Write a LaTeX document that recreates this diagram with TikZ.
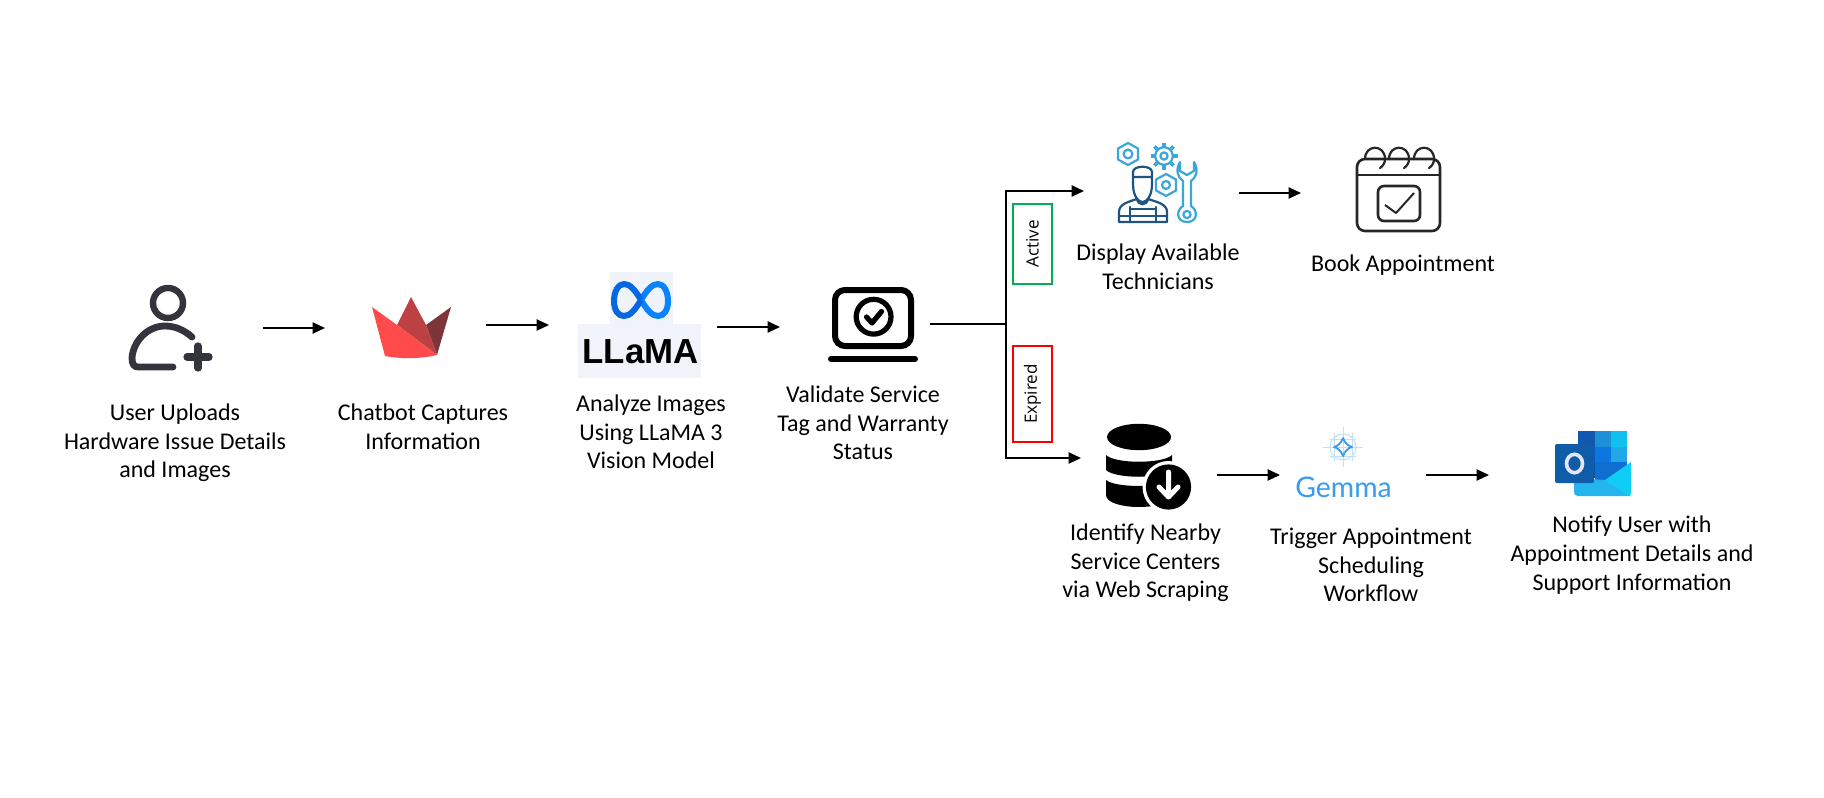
\documentclass[tikz,border=0pt]{standalone}
\usepackage{fontspec}
\setmainfont{Carlito}
\newfontfamily\boxfont{Open Sans}
\newfontfamily\logofont{Liberation Sans}
\newfontfamily\gemfont{Lato}
\usetikzlibrary{arrows.meta}
\definecolor{llbg}{HTML}{F0F3F9}
\definecolor{iconink}{HTML}{34343C}
\definecolor{techblue}{HTML}{1F5480}
\definecolor{techcyan}{HTML}{3BA6D8}
\definecolor{gemblue}{HTML}{3A9BF0}
\definecolor{gemlight}{HTML}{BFE0F8}
\definecolor{crownA}{HTML}{FF4B4B}
\definecolor{crownB}{HTML}{BD4043}
\definecolor{crownC}{HTML}{7D353B}
\definecolor{metaA}{HTML}{0668E1}
\definecolor{metaB}{HTML}{0A84FA}
\definecolor{okgreen}{HTML}{00B050}
\definecolor{olA}{HTML}{1058B0}
\definecolor{olB}{HTML}{1E90D8}
\definecolor{olC}{HTML}{12C0F0}
\definecolor{olD}{HTML}{0A5BC0}
\definecolor{olE}{HTML}{0A78E0}
\definecolor{olF}{HTML}{20A8E8}
\definecolor{olG}{HTML}{084FA8}
\definecolor{olH}{HTML}{0F6FD0}
\definecolor{olI}{HTML}{24B5EE}
\definecolor{olJ}{HTML}{0FCDF5}
\definecolor{olK}{HTML}{0F5CA8}
\tikzset{
  flow/.style={line width=0.8pt,-{Triangle[length=6.2pt,width=5.6pt]}},
  plainline/.style={line width=0.7pt},
  caption/.style={align=center,inner sep=0pt,font=\fontsize{12}{14.3}\selectfont,text=black},
  tag/.style={draw,line width=0.75pt,minimum width=19.5pt,inner sep=0pt,fill=white},
  tagtext/.style={rotate=90,font=\boxfont\fontsize{8.5}{10}\selectfont,text=black},
  techc/.style={draw=techcyan,line width=1.1pt,line join=round},
  techd/.style={draw=techblue,line width=1.1pt,line join=round,line cap=round},
  cal/.style={draw=black!85,line width=1.3pt,line join=round,line cap=round}
}
\begin{document}
\begin{tikzpicture}[x=0.5pt,y=-0.5pt]
\useasboundingbox (0,0) rectangle (1824,797);
\fill[white] (0,0) rectangle (1824,797);

% ---- user icon
\draw[iconink,line width=3.2pt] (168,303) circle[radius=7.5pt];
\draw[iconink,line width=3.4pt,line cap=round,line join=round] (192,337) .. controls (184,330) and (175,326) .. (165,326) .. controls (147,326) and (133,342) .. (132,358) .. controls (132,364) and (134,367) .. (138,367) -- (173,367);
\draw[iconink,line width=3.6pt,line cap=round] (187,357) -- (209,357) (198,346) -- (198,368);

% ---- crown
\fill[crownC] (426,325) -- (451,307) -- (437,355) -- cycle;
\fill[crownB] (397,325) -- (411,297) -- (426,325) -- (437,355) -- cycle;
\fill[crownA] (372,307) -- (397,325) -- (437,355) .. controls (420,359) and (400,359) .. (385,356) -- cycle;

% ---- LLaMA logo
\fill[llbg] (610,272) rectangle (673,324);
\fill[llbg] (578,324) rectangle (701,378);
\draw[line width=3pt,metaB] (641,300) .. controls (647,290) and (652,284) .. (658,284) .. controls (664,284) and (668,292) .. (668,301) .. controls (668,310) and (664,316) .. (658,316) .. controls (652,316) and (647,310) .. (641,300);
\draw[line width=3pt,metaA] (641,300) .. controls (635,290) and (630,284) .. (624,284) .. controls (618,284) and (614,292) .. (614,301) .. controls (614,310) and (618,316) .. (624,316) .. controls (630,316) and (635,310) .. (641,300);
\node[inner sep=0pt,font=\logofont\bfseries\fontsize{17.4}{20}\selectfont] (llamalogo) at (640.5,352) {LLaMA};

% ---- laptop
\draw[black,line width=3pt,rounded corners=5pt] (835,290) rectangle (911,346);
\draw[black,line width=2.6pt] (873.6,316.7) circle[radius=8.7pt];
\draw[black,line width=2.6pt,line cap=round,line join=round] (866.5,317) -- (872,323) -- (881.5,311.5);
\draw[black,line width=3pt,line cap=round] (831,359) -- (915,359);

% ---- technician icon
\draw[techc] (1128,143) -- (1138,148.5) -- (1138,159.5) -- (1128,165) -- (1118,159.5) -- (1118,148.5) -- cycle;
\draw[techc] (1128,154) circle[radius=2.2pt];
\foreach \a in {0,45,...,315}{\draw[techcyan,line width=1.9pt] (1164,156) ++(\a:9) -- ++(\a:4.5);}
\draw[techc,fill=white] (1164,156) circle[radius=4.4pt];
\draw[techc] (1164,156) circle[radius=1.8pt];
\draw[techc] (1166,174) -- (1176,179.5) -- (1176,190.5) -- (1166,196) -- (1156,190.5) -- (1156,179.5) -- cycle;
\draw[techc] (1166,185) circle[radius=2pt];
\draw[techc] (1180,162) .. controls (1175,170) and (1178,178) .. (1183,181) -- (1183,206) .. controls (1176,210) and (1176,222) .. (1187,222) .. controls (1198,222) and (1198,210) .. (1191,206) -- (1191,181) .. controls (1196,178) and (1199,170) .. (1194,162) -- (1194,171) -- (1187,175) -- (1180,171) -- cycle;
\draw[techc] (1187,214.5) circle[radius=1.8pt];
\draw[techd] (1133,184) -- (1133,172) .. controls (1133,165) and (1152,165) .. (1152,172) -- (1152,184) (1133,177) -- (1152,177);
\draw[techd] (1133,184) .. controls (1133,197) and (1139,202) .. (1142.5,202) .. controls (1146,202) and (1152,197) .. (1152,184);
\draw[techd] (1119,222) -- (1119,212) .. controls (1119,204) and (1128,202) .. (1137,199) .. controls (1138,206) and (1147,206) .. (1148,199) .. controls (1157,202) and (1167,204) .. (1167,212) -- (1167,222) -- cycle;
\draw[techd] (1119,216) -- (1167,216) (1130,222) -- (1130,207) (1156,222) -- (1156,207) (1130,209) -- (1156,209);

% ---- calendar
\draw[cal,rounded corners=4pt] (1357,159) rectangle (1440,231);
\draw[cal] (1357,175) -- (1440,175);
\foreach \x in {1375,1399,1424}{
  \draw[cal,line width=1.1pt] (\x-10,159) .. controls (\x-10,144) and (\x+10,144) .. (\x+10,159) .. controls (\x+10,163) and (\x+8,166) .. (\x+5,168);
}
\draw[cal,rounded corners=3pt] (1378,186) rectangle (1420,221);
\draw[black!85,line width=1pt,line join=round] (1385,205) -- (1396,213) -- (1414,193);

% ---- database icon
\fill[black] (1139,437) ellipse[x radius=16pt,y radius=6.6pt];
\fill[black] (1106,455) .. controls (1115,464) and (1163,464) .. (1172,455) -- (1172,470) .. controls (1163,479) and (1115,479) .. (1106,470) -- cycle;
\fill[black] (1106,480) .. controls (1115,488) and (1163,488) .. (1172,480) -- (1172,495) .. controls (1172,503) and (1155,507) .. (1139,507) .. controls (1123,507) and (1106,503) .. (1106,495) -- cycle;
\fill[white] (1168.5,487) circle[radius=13pt];
\fill[black] (1168.5,487) circle[radius=11.3pt];
\draw[white,line width=2.5pt,line cap=round,line join=round] (1168.5,472) -- (1168.5,496) (1159,487) -- (1168.5,497) -- (1178,487);

% ---- gemma logo
\begin{scope}[gemlight,line width=0.5pt]
\draw (1343,447) circle[radius=6.5pt];
\draw (1323,447) -- (1363,447) (1343,427) -- (1343,467);
\draw (1330,439) -- (1356,439) (1330,456) -- (1356,456) (1334,433) -- (1334,461) (1352,433) -- (1352,461);
\end{scope}
\draw[gemblue,line width=0.9pt,line join=round] (1343,438) .. controls (1345,443) and (1348,446) .. (1352,447) .. controls (1348,448) and (1345,451) .. (1343,456) .. controls (1341,451) and (1338,448) .. (1334,447) .. controls (1338,446) and (1341,443) .. (1343,438) -- cycle;
\node[inner sep=0pt,text=gemblue,font=\gemfont\fontsize{14.2}{18}\selectfont] (gemmalogo) at (1343.5,487) {Gemma};

% ---- outlook logo
\fill[olA] (1578,431) rectangle (1595,447);
\fill[olB] (1595,431) rectangle (1611,447);
\fill[olC] (1611,431) rectangle (1627,447);
\fill[olD] (1578,447) rectangle (1595,462);
\fill[olE] (1595,447) rectangle (1611,462);
\fill[olF] (1611,447) rectangle (1627,462);
\fill[olG] (1578,462) rectangle (1595,478);
\fill[olH] (1595,462) rectangle (1627,482);
\fill[olI] (1574,478) -- (1605,480) -- (1631,496) -- (1578,496) .. controls (1575,496) and (1574,494) .. (1574,492) -- cycle;
\fill[olJ] (1605,480) -- (1631,462) -- (1631,493) .. controls (1631,495) and (1630,496) .. (1629,496) -- cycle;
\fill[olK,rounded corners=1pt] (1555,444) rectangle (1594,483);
\draw[white!90!blue,line width=1.8pt] (1574.5,463.5) ellipse[x radius=4pt,y radius=4.6pt];

% ---- captions
\node[caption] (cap1) at (175,443) {User Uploads\\Hardware Issue Details\\and Images};
\node[caption] (cap2) at (423,427) {Chatbot Captures\\Information};
\node[caption] (cap3) at (651,432) {Analyze Images\\Using LLaMA 3\\Vision Model};
\node[caption] (cap4) at (863,423) {Validate Service\\Tag and Warranty\\Status};
\node[caption] (cap5) at (1158,267) {Display Available\\Technicians};
\node[caption] (cap6) at (1403,265) {Book Appointment};
\node[caption] (cap7) at (1145.5,563) {Identify Nearby\\Service Centers\\via Web Scraping};
\node[caption] (cap8) at (1371,565) {Trigger Appointment\\Scheduling\\Workflow};
\node[caption] (cap9) at (1632,555) {Notify User with\\Appointment Details and\\Support Information};

% ---- connectors
\coordinate (a1) at (263,328); \coordinate (b1) at (325,328);
\coordinate (a2) at (486,325); \coordinate (b2) at (549,325);
\coordinate (a3) at (717,327); \coordinate (b3) at (780,327);
\coordinate (lap) at (929.5,324); \coordinate (fork) at (1006,324);
\coordinate (top) at (1084,191); \coordinate (bot) at (1081,458);
\coordinate (a4) at (1239,193); \coordinate (b4) at (1301,193);
\coordinate (a5) at (1217,475); \coordinate (b5) at (1280,475);
\coordinate (a6) at (1426,475); \coordinate (b6) at (1489,475);
\draw[flow] (a1) -- (b1);
\draw[flow] (a2) -- (b2);
\draw[flow] (a3) -- (b3);
\draw[plainline] (lap) -- (fork);
\draw[flow] (fork) |- (top);
\draw[flow] (fork) |- (bot);
\draw[flow] (a4) -- (b4);
\draw[flow] (a5) -- (b5);
\draw[flow] (a6) -- (b6);

% ---- tags
\node[tag,draw=okgreen,minimum height=40pt] (activebox) at (1032.5,244) {};
\node[tagtext] (activetext) at (activebox) {Active};
\node[tag,draw=red,minimum height=48pt] (expiredbox) at (1032.5,394) {};
\node[tagtext] (expiredtext) at (expiredbox) {Expired};
\end{tikzpicture}
\end{document}
